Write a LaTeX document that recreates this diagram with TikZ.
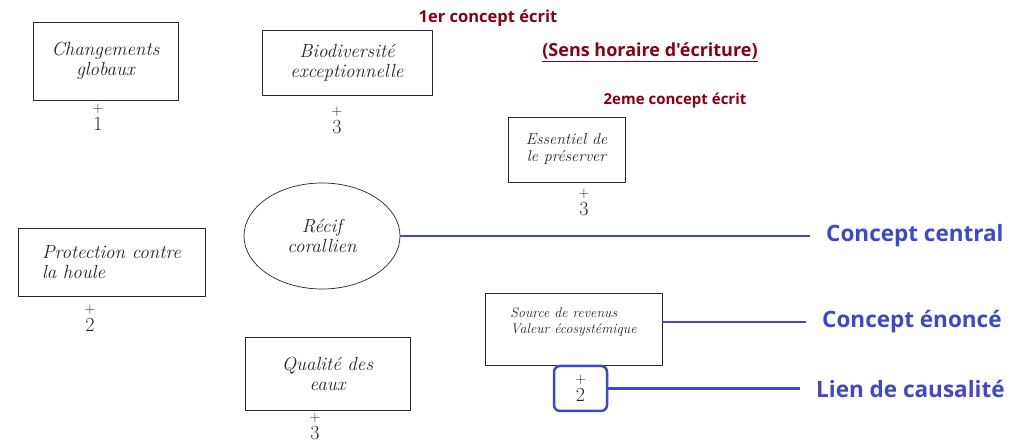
\documentclass[tikz,border=0pt]{standalone}
\usepackage{fontspec}
\newfontfamily\legendfont{Open Sans}
\usetikzlibrary{positioning,shapes.geometric}
\definecolor{legblue}{HTML}{3F48CC}
\definecolor{legred}{HTML}{880015}
\tikzset{
  every picture/.style={line join=round, line cap=round},
  concept/.style={draw=black!85, line width=0.7pt, inner sep=2pt, align=center, text=black!85, font=\fontsize{19}{20}\selectfont\itshape},
  lien/.style={align=center, inner sep=1pt, text=black!85, font=\fontsize{20}{18}\selectfont},
  legend/.style={anchor=west, inner sep=0pt, text=legblue, font=\fontsize{22.5}{24}\selectfont\legendfont\bfseries},
  legline/.style={draw=legblue, line width=2.5pt, line cap=butt, shorten >=16pt},
  note/.style={text=legred, inner sep=0pt, font=\legendfont\bfseries},
}
\newcommand\plus{{\fontsize{15}{15}\selectfont+}}

\begin{document}
\begin{tikzpicture}[x=1pt,y=-1pt]
\path[use as bounding box, fill=white](0,0)rectangle(1015,443);
% concepts
\node[concept, minimum width=145, minimum height=78](chg)at(105.5,61){Changements\\globaux};
\node[concept, minimum width=170, minimum height=65](bio)at(347,62.5){Biodiversit\'e\\exceptionnelle};
\node[concept, minimum width=117, minimum height=65, font=\fontsize{16}{17}\selectfont\itshape](ess)at(566.5,149.5){Essentiel de\\le pr\'eserver};
\node[concept, ellipse, minimum width=156, minimum height=106](recif)at(322,236){R\'ecif\\corallien};
\node[concept, minimum width=187, minimum height=68, align=left](pro)at(111.5,262){Protection contre\\la houle};
\node[concept, minimum width=165, minimum height=73](qual)at(327.5,373.5){Qualit\'e des\\eaux};
\node[concept, minimum width=177, minimum height=72, align=left, font=\fontsize{14}{16}\selectfont\itshape](src)at(573.5,329){Source de revenus\\Valeur \'ecosyst\'emique\\\mbox{}};
% liens
\node[lien](lchg)at(98,117){\plus\\1};
\node[lien](lbio)at(337,120){\plus\\3};
\node[lien](less)at(584,202){\plus\\3};
\node[lien](lpro)at(90,318){\plus\\2};
\node[lien](lqual)at(315,426){\plus\\3};
\node[lien, draw=legblue, line width=2.5pt, rounded corners=6pt, minimum width=53, minimum height=45](lsrc)at(580.5,388.5){\plus\\2};
% notes
\node[note, font=\fontsize{16.5}{18}\selectfont\legendfont\bfseries](n1)at(488,18){1er concept \'ecrit};
\node[note, font=\fontsize{18}{20}\selectfont\legendfont\bfseries](sens)at(650,52){\underline{(Sens horaire d'\'ecriture)}};
\node[note, font=\fontsize{15}{18}\selectfont\legendfont\bfseries](n2)at(675,101){2eme concept \'ecrit};
% legende
\node[legend](central)at(826,236){Concept central};
\node[legend](enonce)at(822,322){Concept \'enonc\'e};
\node[legend](causal)at(816,388.5){Lien de causalit\'e};
\draw[legline](recif.east)--(central.west);
\draw[legline](src.east |- enonce.west)--(enonce.west);
\draw[legline](lsrc.east)--(causal.west);
\end{tikzpicture}
\end{document}
